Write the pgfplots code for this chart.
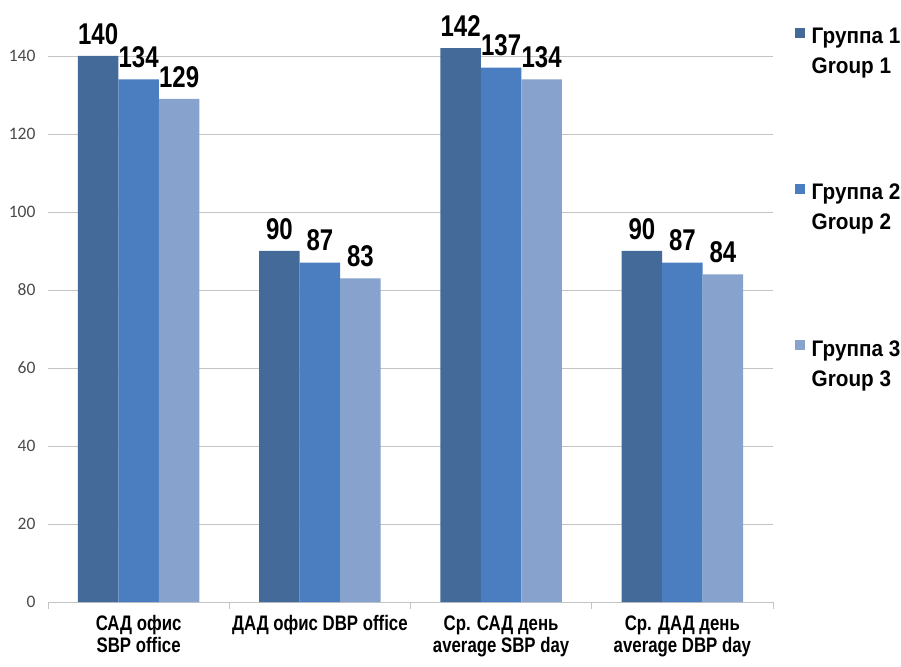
\documentclass[border=0pt]{standalone}
\usepackage{fontspec}
\setmainfont{Liberation Sans}
\newfontfamily\narrowbold{Liberation Sans}[FakeStretch=0.8]
\newfontfamily\legendfont{Liberation Sans}[FakeStretch=0.92]
\newfontfamily\tickfont{Carlito}
\usepackage{pgfplots}
\usepackage{pgfplotstable}
\pgfplotsset{compat=1.18}

\definecolor{gOne}{HTML}{436A98}
\definecolor{gTwo}{HTML}{4A7EC1}
\definecolor{gThree}{HTML}{87A2CD}
\definecolor{gridgray}{HTML}{C4C4C4}
\definecolor{ticktext}{HTML}{4A4A4A}

% blood pressure by group: SBP/DBP in office and average daytime
\pgfplotstableread{
cat g1  g2  g3
0   140 134 129
1   90  87  83
2   142 137 134
3   90  87  84
}\bpdata

\begin{document}
\begin{tikzpicture}
\begin{axis}[
  scale only axis,
  width=725pt, height=602pt,
  ymin=0, ymax=154.36,
  xmin=-0.5, xmax=3.5,
  /pgf/number format/assume math mode=true,
  ybar=0pt, bar width=40.5pt,
  axis x line*=bottom, axis y line*=left,
  y axis line style={draw=none},
  x axis line style={draw=gridgray, line width=0.9pt, -},
  ytick={0,20,...,140},
  ymajorgrids,
  major grid style={gridgray, line width=0.9pt},
  major tick length=0pt,
  xtick={0,1,2,3},
  xticklabels={{САД офис\\SBP office},{ДАД офис DBP office},{Ср. САД день\\average SBP day},{Ср. ДАД день\\average DBP day}},
  minor xtick={-0.5,0.5,1.5,2.5,3.5},
  minor tick length=7pt,
  minor x tick style={draw=gridgray, line width=0.9pt},
  tick align=outside,
  xticklabel style={font=\narrowbold\bfseries\fontsize{21}{22}\selectfont, align=center, anchor=north, yshift=-10pt},
  yticklabel style={font=\tickfont\fontsize{17.5}{17.5}\selectfont, text=ticktext, xshift=-9pt},
  nodes near coords,
  every node near coord/.append style={font=\narrowbold\bfseries\fontsize{30}{30}\selectfont, text=black, yshift=8pt},
  legend style={draw=none, fill=none, at={(rel axis cs:1.0255,0.96)}, anchor=north west,
    font=\legendfont\bfseries\fontsize{22.5}{30}\selectfont, row sep=105pt,
    cells={align=left}},
  legend cell align=left,
  legend image code/.code={\fill[#1] (0pt,14pt) rectangle (10pt,24pt); \path (15pt,14pt);},
]
\addplot[fill=gOne, draw=none] table[x=cat, y=g1] {\bpdata};
\addplot[fill=gTwo, draw=none] table[x=cat, y=g2] {\bpdata};
\addplot[fill=gThree, draw=none] table[x=cat, y=g3] {\bpdata};
\legend{{Группа 1\\Group 1},{Группа 2\\Group 2},{Группа 3\\Group 3}}
\end{axis}
\pgfresetboundingbox
\path[use as bounding box] (current axis.south west) ++(-48pt,-64pt) rectangle ++(901pt,666pt);
\end{tikzpicture}
\end{document}
